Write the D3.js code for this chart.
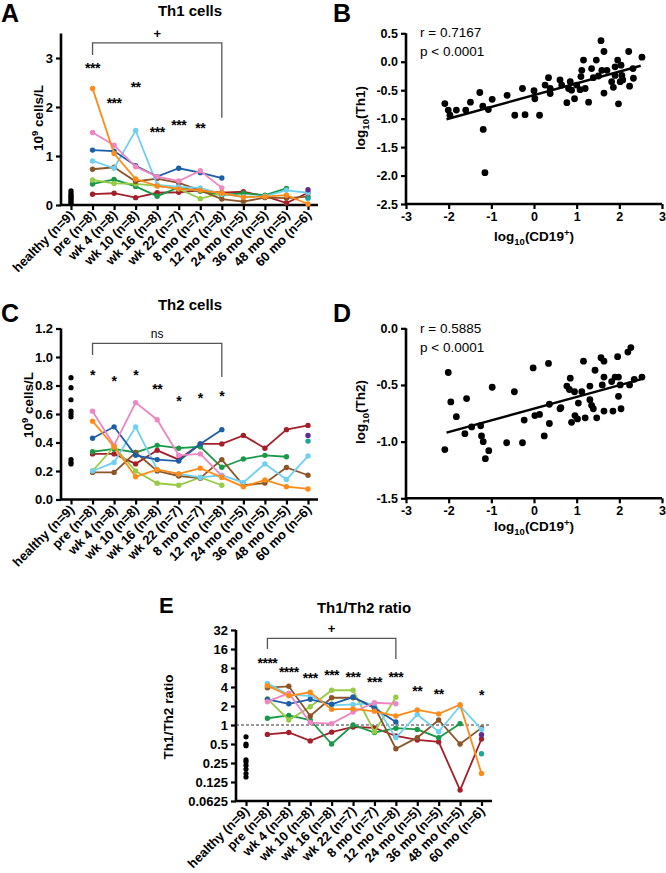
<!DOCTYPE html>
<html><head><meta charset="utf-8">
<script src="https://cdn.jsdelivr.net/npm/d3@7"></script>
<style>body{margin:0;background:#fff}</style>
</head><body><svg id="c" width="666" height="873"></svg>
<script>
// ---------------- DATA ----------------
const categories = ["healthy (n=9)","pre (n=8)","wk 4 (n=8)","wk 10 (n=8)","wk 16 (n=8)","wk 22 (n=7)","8 mo (n=7)","12 mo (n=8)","24 mo (n=5)","36 mo (n=5)","48 mo (n=5)","60 mo (n=6)"];
const timepoints = categories.slice(1);
const patients = ["darkred","green","lightgreen","brown","lightblue","blue","pink","orange","purple","teal"];
const patientColors = ["#a3202a","#1a9a48","#96cc45","#8c5527","#6fd0f2","#1c5fa8","#ee86c2","#ff8c1a","#5b2c91","#1ea49a"];

// Th1 cells (10^9 cells/L), per patient, per timepoint (pre..60 mo)
const th1 = [
  [0.22,0.24,0.15,0.25,0.26,0.30,0.25,0.27,0.18,0.04,0.25],
  [0.43,0.52,0.38,0.18,0.36,0.28,0.20,0.24,0.20,0.34,null],
  [0.51,0.44,0.43,0.39,0.33,0.13,0.24,null,null,null,null],
  [0.73,0.77,0.48,0.54,0.45,0.30,0.12,0.07,0.15,0.14,0.17],
  [0.90,0.75,1.52,0.41,0.37,0.35,0.22,0.17,0.18,0.30,0.25],
  [1.12,1.10,0.80,0.58,0.75,0.66,0.55,null,null,null,null],
  [1.48,1.22,0.78,0.58,0.49,0.70,0.35,null,null,null,null],
  [2.38,1.05,0.53,0.39,0.33,0.30,0.24,0.16,0.17,0.20,0.02],
  [null,null,null,null,null,null,null,null,null,null,0.31],
  [null,null,null,null,null,null,null,null,null,null,0.14]
];
const th1Healthy = [0.03,0.06,0.09,0.12,0.15,0.18,0.21,0.25,0.29];

// Th2 cells (10^9 cells/L)
const th2 = [
  [0.32,0.32,0.25,0.345,0.28,0.39,0.39,0.45,0.36,0.49,0.52],
  [0.335,0.355,0.33,0.38,0.36,0.37,0.226,0.284,0.31,0.30,null],
  [0.20,0.37,0.20,0.114,0.10,0.155,0.10,null,null,null,null],
  [0.19,0.19,0.33,0.20,0.165,0.15,0.28,0.10,0.115,0.225,0.17],
  [0.20,0.26,0.51,0.21,0.18,0.155,0.17,0.12,0.25,0.14,0.305],
  [0.43,0.51,0.31,0.28,0.27,0.39,0.49,null,null,null,null],
  [0.62,0.38,0.68,0.56,0.31,0.32,0.165,null,null,null,null],
  [0.55,0.37,0.16,0.21,0.18,0.22,0.155,0.09,0.137,0.09,0.074],
  [null,null,null,null,null,null,null,null,null,null,0.45],
  [null,null,null,null,null,null,null,null,null,null,0.41]
];
const th2Healthy = [0.855,0.785,0.70,0.62,0.60,0.58,0.28,0.26,0.25];

// Th1/Th2 ratio
const ratio = [
  [0.71,0.76,0.56,0.77,0.93,0.90,0.67,0.58,0.54,0.093,0.60],
  [1.28,1.42,1.20,0.50,1.00,0.76,0.89,0.85,0.63,1.05,null],
  [2.6,1.2,1.95,3.55,3.55,0.78,2.75,null,null,null,null],
  [3.9,4.1,1.39,2.7,2.7,1.95,0.42,0.63,1.2,0.5,0.9],
  [4.57,3.0,2.9,2.05,2.12,2.2,0.63,1.47,0.78,2.0,0.85],
  [2.55,2.17,2.55,2.13,2.77,1.85,1.12,null,null,null,null],
  [2.34,3.2,1.09,1.05,1.6,2.25,2.17,null,null,null,null],
  [4.2,2.9,3.3,1.77,1.8,1.65,1.39,1.73,1.5,2.1,0.17],
  [null,null,null,null,null,null,null,null,null,null,0.7],
  [null,null,null,null,null,null,null,null,null,null,0.35]
];
const ratioHealthy = [0.65,0.5,0.47,0.28,0.26,0.23,0.2,0.17,0.15];

// significance annotations (label, category, level in data units)
const th1Stars = ["***","***","**","***","***","**"];
const th1StarCats = ["pre (n=8)","wk 4 (n=8)","wk 10 (n=8)","wk 16 (n=8)","wk 22 (n=7)","8 mo (n=7)"];
const th1StarLevels = [2.86,2.15,2.47,1.56,1.69,1.64];
const th2Stars = ["*","*","*","**","*","*","*"];
const th2StarCats = ["pre (n=8)","wk 4 (n=8)","wk 10 (n=8)","wk 16 (n=8)","wk 22 (n=7)","8 mo (n=7)","12 mo (n=8)"];
const th2StarLevels = [0.897,0.85,0.895,0.80,0.71,0.73,0.745];
const ratioStars = ["****","****","***","***","***","***","***","**","**","*"];
const ratioStarCats = ["pre (n=8)","wk 4 (n=8)","wk 10 (n=8)","wk 16 (n=8)","wk 22 (n=7)","8 mo (n=7)","12 mo (n=8)","24 mo (n=5)","36 mo (n=5)","60 mo (n=6)"];
const ratioStarLevels = [10.6,7.8,6.1,6.9,6.5,5.4,6.4,3.9,3.46,3.3];

// Scatter: log10(CD19+) vs log10(Th1)
const bX = [-2.09,-2.01,-1.97,-1.82,-1.6,-1.49,-1.27,-1.2,-1.07,-0.98,-1.19,-1.15,-0.63,-0.45,-0.27,-0.21,0,0.02,0.13,0.26,0.34,0.38,0.38,0.61,0.65,0.77,0.81,0.85,0.88,0.95,1.0,1.08,1.1,1.16,1.12,1.2,1.28,1.35,1.39,1.46,1.51,1.57,1.59,1.64,1.64,1.71,1.82,1.86,1.9,1.96,1.98,2.02,2.04,2.06,2.22,2.24,2.33,2.32,2.53,2.08,1.9];
const bY = [-0.735,-0.85,-0.94,-0.85,-0.85,-0.71,-0.54,-0.78,-0.84,-0.66,-1.19,-1.95,-0.59,-0.94,-0.47,-0.93,-0.51,-0.65,-0.94,-0.41,-0.28,-0.47,-0.56,-0.32,-0.41,-0.72,-0.47,-0.35,-0.5,-0.65,-0.41,-0.49,-0.26,0.03,-0.15,-0.47,-0.71,-0.12,-0.28,0.03,-0.25,0.37,-0.15,0.18,-0.55,-0.15,-0.35,-0.45,-0.09,0.03,-0.74,-0.35,-0.06,-0.24,0.18,-0.43,-0.29,-0.12,0.08,-0.32,-0.24];
const bFitX = [-2.05,2.5];
const bFitY = [-1.01,-0.07];

// Scatter: log10(CD19+) vs log10(Th2)
const dX = [-2.09,-2.01,-1.95,-1.82,-1.62,-1.58,-1.46,-1.25,-1.23,-1.19,-1.14,-1.06,-0.98,-0.64,-0.46,-0.27,-0.23,-0.02,0.02,0.13,0.24,0.34,0.36,0.36,0.61,0.63,0.77,0.85,0.83,0.88,0.95,0.96,1.02,1.04,1.12,1.16,1.2,1.31,1.31,1.35,1.39,1.43,1.47,1.57,1.6,1.64,1.64,1.64,1.82,1.85,1.9,1.96,1.98,1.98,2.02,2.04,2.2,2.27,2.24,2.35,2.53];
const dY = [-1.07,-0.39,-0.65,-0.78,-0.93,-0.62,-0.87,-0.86,-0.95,-1.0,-1.15,-1.08,-0.52,-1.01,-0.56,-1.01,-0.81,-0.35,-0.77,-0.76,-0.95,-0.31,-0.67,-0.84,-0.71,-0.70,-0.51,-0.44,-0.54,-0.83,-0.56,-0.77,-0.8,-0.66,-0.56,-0.29,-0.79,-0.51,-0.63,-0.68,-0.71,-0.37,-0.79,-0.26,-0.5,-0.29,-0.43,-0.73,-0.47,-0.73,-0.43,-0.25,-0.43,-0.6,-0.5,-0.71,-0.21,-0.17,-0.5,-0.45,-0.43];
const dFitX = [-2.05,2.5];
const dFitY = [-0.92,-0.45];

// ---------------- DRAWING ----------------
const FONT = '"Liberation Sans", Arial, Helvetica, sans-serif';
const svg = d3.select("#c").attr("font-family", FONT);

function txt(g, x, y, s, size, weight, anchor){
  return g.append("text").attr("x",x).attr("y",y).text(s)
    .attr("font-size",size).attr("font-weight",weight||"bold")
    .attr("text-anchor",anchor||"start").attr("fill","#000");
}
function styleAxis(g, size){
  g.select("path.domain").remove();
  g.selectAll(".tick line").attr("stroke","#000").attr("stroke-width",2.2);
  g.selectAll(".tick text").attr("font-size",size||12.5).attr("font-weight","bold")
    .attr("fill","#000").attr("font-family",FONT);
}
function axisLines(g, ax, yTop, ay, xEnd){
  g.append("path").attr("d",`M${ax},${yTop}V${ay}H${xEnd}`)
    .attr("fill","none").attr("stroke","#000").attr("stroke-width",2.6);
}

function linePanel(o){
  const g = svg.append("g");
  const x = d3.scalePoint().domain(categories).range(o.xRange);
  const y = o.y;
  const ya = g.append("g").attr("transform",`translate(${o.ax},0)`)
    .call(d3.axisLeft(y).tickValues(o.ticks).tickFormat(o.fmt).tickSize(5).tickPadding(3));
  styleAxis(ya, 13);
  const xa = g.append("g").attr("transform",`translate(0,${o.ay})`)
    .call(d3.axisBottom(x).tickSize(5).tickFormat(""));
  styleAxis(xa);
  axisLines(g, o.ax, o.yTop, o.ay, o.xEnd);
  categories.forEach(c=>{
    g.append("text").attr("transform",`translate(${x(c)+4},${o.ay+11}) rotate(-45)`)
      .attr("text-anchor","end").attr("font-size",13).attr("font-weight","bold").text(c);
  });
  if(o.dashed){
    g.append("line").attr("x1",o.ax).attr("x2",o.xEnd-2).attr("y1",y(o.dashed)).attr("y2",y(o.dashed))
      .attr("stroke","#333").attr("stroke-width",1).attr("stroke-dasharray","3,2");
  }
  const line = d3.line().defined(v=>v[1]!=null).x(v=>x(v[0])).y(v=>y(v[1]));
  o.series.forEach((vals,i)=>{
    const pts = timepoints.map((t,j)=>[t,vals[j]]);
    g.append("path").datum(pts).attr("d",line).attr("fill","none")
      .attr("stroke",patientColors[i]).attr("stroke-width",1.8);
    g.selectAll(null).data(pts.filter(p=>p[1]!=null)).join("circle")
      .attr("cx",p=>x(p[0])).attr("cy",p=>y(p[1])).attr("r",2.7).attr("fill",patientColors[i]);
  });
  g.selectAll(null).data(o.healthy).join("circle")
    .attr("cx",x(categories[0])).attr("cy",v=>y(v)).attr("r",2.6).attr("fill","#000");
  const b = o.bracket;
  g.append("path").attr("d",`M${x(timepoints[0])},${y(b[1])}V${y(b[0])}H${x("12 mo (n=8)")}V${y(b[2])}`)
    .attr("fill","none").attr("stroke","#555").attr("stroke-width",1.3);
  txt(g,(x(timepoints[0])+x("12 mo (n=8)"))/2, y(b[0])-5, o.bracketLabel, o.bracketLabel==="ns"?12:13, o.bracketLabel==="ns"?"normal":"bold","middle");
  o.stars.forEach((s,i)=>{
    txt(g, x(o.starCats[i]), y(o.starLevels[i])+8, s, 14, "bold","middle").attr("letter-spacing",-0.5);
  });
  txt(g, o.titleX, o.titleY, o.title, 15, "bold","middle");
  txt(g, o.letterX, o.letterY, o.letter, o.letterSize||25, "bold");
  const yl = g.append("text").attr("transform",`translate(${o.ylx},${o.yly}) rotate(-90)`)
    .attr("text-anchor","middle").attr("font-size",13.5).attr("font-weight","bold");
  o.ylabel(yl);
}

function scatterPanel(o){
  const g = svg.append("g");
  const x = d3.scaleLinear().domain([-3,3]).range([406,662]);
  const y = o.y;
  const ya = g.append("g").attr("transform","translate(406,0)")
    .call(d3.axisLeft(y).tickValues(o.ticks).tickFormat(d=>d.toFixed(1)).tickSize(5).tickPadding(3));
  styleAxis(ya, 12.5);
  const xa = g.append("g").attr("transform",`translate(0,${o.ay})`)
    .call(d3.axisBottom(x).tickValues([-3,-2,-1,0,1,2,3]).tickFormat(d=>String(d)).tickSize(5).tickPadding(3));
  styleAxis(xa, 12.5);
  axisLines(g, 406, y(o.ticks[o.ticks.length-1]), o.ay, 662);
  g.selectAll(null).data(o.xs.map((v,i)=>[v,o.ys[i]])).join("circle")
    .attr("cx",d=>x(d[0])).attr("cy",d=>y(d[1])).attr("r",3.4).attr("fill","#000");
  g.append("line").attr("x1",x(o.fx[0])).attr("y1",y(o.fy[0])).attr("x2",x(o.fx[1])).attr("y2",y(o.fy[1]))
    .attr("stroke","#000").attr("stroke-width",2.4);
  txt(g,420,o.ry,o.r,13.5,"normal");
  txt(g,420,o.ry+18.5,"p < 0.0001",13.5,"normal");
  txt(g,333,o.letterY,o.letter,25,"bold");
  const xl = g.append("text").attr("x",534).attr("y",o.xly).attr("text-anchor","middle")
    .attr("font-size",13.5).attr("font-weight","bold");
  xl.append("tspan").text("log");
  xl.append("tspan").text("10").attr("font-size",9.5).attr("dy",4);
  xl.append("tspan").text("(CD19").attr("dy",-4);
  xl.append("tspan").text("+").attr("font-size",9.5).attr("dy",-5);
  xl.append("tspan").text(")").attr("dy",5);
  const yl = g.append("text").attr("transform",`translate(365,${o.yly}) rotate(-90)`)
    .attr("text-anchor","middle").attr("font-size",13.5).attr("font-weight","bold");
  yl.append("tspan").text("log");
  yl.append("tspan").text("10").attr("font-size",9.5).attr("dy",4);
  yl.append("tspan").text(o.yname).attr("dy",-4);
}

function cellsLabel(t){
  t.append("tspan").text("10");
  t.append("tspan").text("9").attr("font-size",9.5).attr("dy",-5);
  t.append("tspan").text(" cells/L").attr("dy",5);
}

// Panel A
linePanel({
  xRange:[71,308], y:d3.scaleLinear().domain([0,3.5]).range([205,33.5]),
  ax:61, ay:205, yTop:33.5, xEnd:318, ticks:[0,1,2,3], fmt:d3.format("d"),
  series:th1, healthy:th1Healthy, bracket:[3.31,3.06,1.78], bracketLabel:"+",
  stars:th1Stars, starCats:th1StarCats, starLevels:th1StarLevels,
  title:"Th1 cells", titleX:190, titleY:16, letter:"A", letterX:1, letterY:22,
  ylx:43, yly:118, ylabel:cellsLabel
});
// Panel C
linePanel({
  xRange:[71,308], y:d3.scaleLinear().domain([0,1.2]).range([499.5,328.5]),
  ax:61, ay:499.5, yTop:328.5, xEnd:318, ticks:[0,0.2,0.4,0.6,0.8,1.0,1.2], fmt:d=>d.toFixed(1),
  series:th2, healthy:th2Healthy, bracket:[1.096,1.014,0.86], bracketLabel:"ns",
  stars:th2Stars, starCats:th2StarCats, starLevels:th2StarLevels,
  title:"Th2 cells", titleX:190, titleY:310, letter:"C", letterX:1, letterY:322,
  ylx:33, yly:405, ylabel:cellsLabel
});
// Panel E
linePanel({
  xRange:[246,481.5], y:d3.scaleLog().base(2).domain([0.0625,32]).range([801,630]),
  ax:236, ay:801, yTop:630, xEnd:492, ticks:[32,16,8,4,2,1,0.5,0.25,0.125,0.0625], fmt:d=>String(d),
  series:ratio, healthy:ratioHealthy, bracket:[23.6,16,11.1], bracketLabel:"+", dashed:1,
  stars:ratioStars, starCats:ratioStarCats, starLevels:ratioStarLevels,
  title:"Th1/Th2 ratio", titleX:364, titleY:613, letter:"E", letterX:159, letterY:613, letterSize:22,
  ylx:173, yly:717, ylabel:t=>t.text("Th1/Th2 ratio")
});
// Panel B
scatterPanel({
  y:d3.scaleLinear().domain([-2.5,0.5]).range([204,33.3]), ticks:[-2.5,-2,-1.5,-1,-0.5,0,0.5], ay:204,
  xs:bX, ys:bY, fx:bFitX, fy:bFitY, r:"r = 0.7167", ry:37, letter:"B", letterY:22,
  xly:241, yly:118, yname:"(Th1)"
});
// Panel D
scatterPanel({
  y:d3.scaleLinear().domain([-1.5,0]).range([498.3,328.3]), ticks:[-1.5,-1,-0.5,0], ay:498.3,
  xs:dX, ys:dY, fx:dFitX, fy:dFitY, r:"r = 0.5885", ry:333, letter:"D", letterY:322,
  xly:531, yly:412, yname:"(Th2)"
});
</script></body></html>
